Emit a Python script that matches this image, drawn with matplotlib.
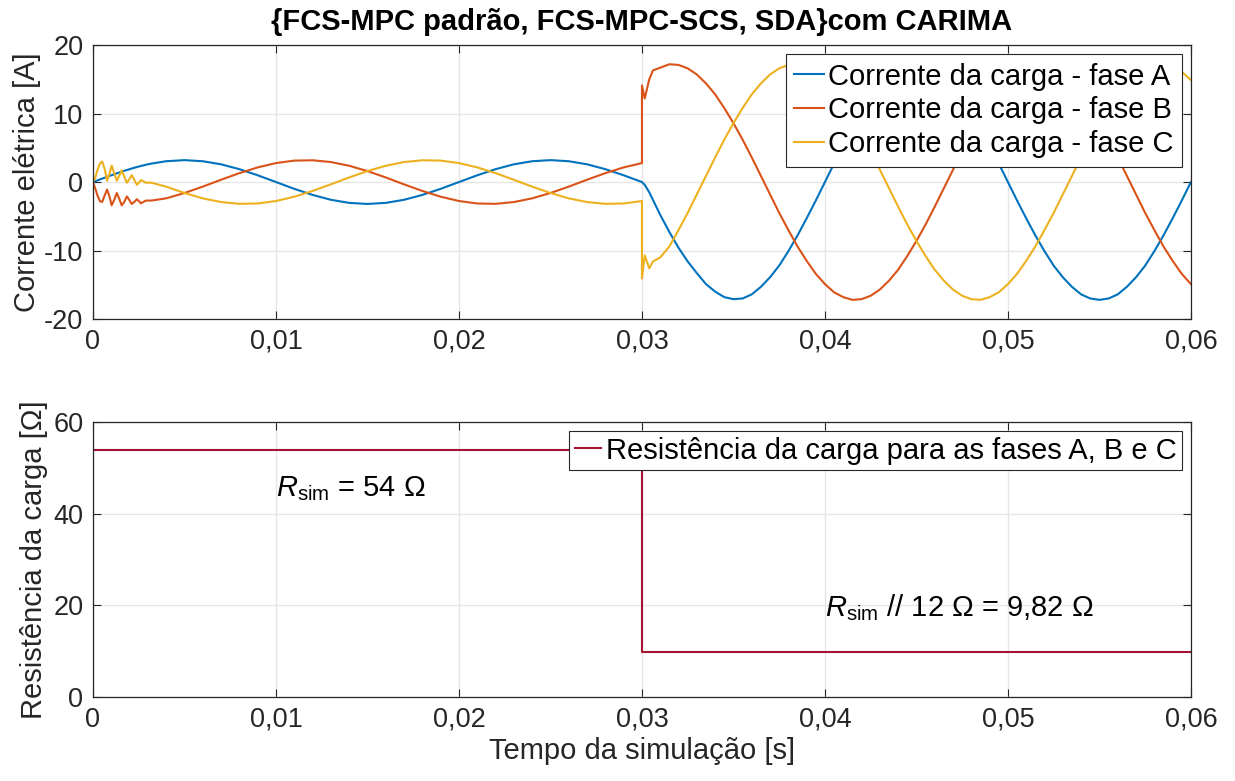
import matplotlib
matplotlib.use("Agg")
import matplotlib.pyplot as plt

plt.rcParams['font.family'] = ['Liberation Sans', 'DejaVu Sans']
plt.rcParams['mathtext.fontset'] = 'custom'
plt.rcParams['mathtext.rm'] = 'Liberation Sans'
plt.rcParams['mathtext.it'] = 'Liberation Sans:italic'
plt.rcParams['axes.unicode_minus'] = False

# ---------------- data ----------------
# time grid before the load step [s]
t_pre = [0, 0.00012, 0.00025, 0.00038, 0.0005, 0.00063, 0.00077, 0.0009,
         0.00102, 0.00116, 0.0013, 0.00143, 0.00157, 0.00171, 0.00185,
         0.00198, 0.00212, 0.00226, 0.0024, 0.00251, 0.00262, 0.00276,
         0.0029, 0.0032,
         0.004, 0.005, 0.006, 0.007, 0.008, 0.009, 0.010, 0.011, 0.012,
         0.013, 0.014, 0.015, 0.016, 0.017, 0.018, 0.019, 0.020, 0.021,
         0.022, 0.023, 0.024, 0.025, 0.026, 0.027, 0.028, 0.029, 0.030]
ia_pre = [0, 0.12, 0.25, 0.38, 0.5, 0.63, 0.77, 0.89, 1.01, 1.14, 1.27, 1.39,
          1.52, 1.64, 1.76, 1.86, 1.98, 2.09, 2.19, 2.27, 2.35, 2.44, 2.53, 2.70,
          3.04, 3.2, 3.04, 2.59, 1.88, 0.99, 0.0, -0.99, -1.88, -2.59, -3.04,
          -3.2, -3.04, -2.59, -1.88, -0.99, 0.0, 0.99, 1.88, 2.59, 3.04, 3.2,
          3.04, 2.59, 1.88, 0.99, 0.0]
ib_pre = [0, -0.9, -2.0, -2.8, -2.9, -2.0, -1.1, -2.1, -3.4, -2.6, -1.6, -2.4,
          -3.4, -2.9, -2.1, -2.6, -3.2, -2.9, -2.5, -2.8, -3.1, -2.9, -2.7, -2.7,
          -2.38, -1.6, -0.67, 0.34, 1.30, 2.14, 2.77, 3.13, 3.18, 2.92, 2.38,
          1.6, 0.67, -0.34, -1.30, -2.14, -2.77, -3.13, -3.18, -2.92, -2.38,
          -1.6, -0.67, 0.34, 1.30, 2.14, 2.77]
ic_pre = [0, 0.6, 1.8, 2.7, 3.0, 2.0, 0.2, 1.2, 2.4, 1.3, 0.2, 0.9,
          1.7, 0.8, -0.1, 0.4, 1.0, 0.3, -0.4, -0.1, 0.3, 0.1, -0.1, -0.1,
          -0.67, -1.6, -2.38, -2.92, -3.18, -3.13, -2.77, -2.14, -1.30, -0.33,
          0.67, 1.6, 2.38, 2.92, 3.18, 3.13, 2.77, 2.14, 1.30, 0.33, -0.67,
          -1.6, -2.38, -2.92, -3.18, -3.13, -2.77]

# time grid after the load step [s]
t_post = [0.030, 0.03015, 0.0304, 0.0306, 0.031,
          0.0315, 0.032, 0.0325, 0.033, 0.0335, 0.034, 0.0345, 0.035, 0.0355,
          0.036, 0.0365, 0.037, 0.0375, 0.038, 0.0385, 0.039, 0.0395, 0.040,
          0.0405, 0.041, 0.0415, 0.042, 0.0425, 0.043, 0.0435, 0.044, 0.0445,
          0.045, 0.0455, 0.046, 0.0465, 0.047, 0.0475, 0.048, 0.0485, 0.049,
          0.0495, 0.050, 0.0505, 0.051, 0.0515, 0.052, 0.0525, 0.053, 0.0535,
          0.054, 0.0545, 0.055, 0.0555, 0.056, 0.0565, 0.057, 0.0575, 0.058,
          0.0585, 0.059, 0.0595, 0.060]
ia_post = [0.0, -0.4, -1.5, -2.6, -4.8,
           -7.3, -9.6, -11.6, -13.3, -14.9, -16.0, -16.8, -17.1, -17.0,
           -16.4, -15.3, -13.9, -12.2, -10.1, -7.8, -5.3, -2.7, 0.0,
           2.7, 5.3, 7.8, 10.1, 12.2, 13.9, 15.3, 16.4, 17.0,
           17.2, 17.0, 16.4, 15.3, 13.9, 12.2, 10.1, 7.8, 5.3,
           2.7, 0.0, -2.7, -5.3, -7.8, -10.1, -12.2, -13.9, -15.3,
           -16.4, -17.0, -17.2, -17.0, -16.4, -15.3, -13.9, -12.2, -10.1,
           -7.8, -5.3, -2.7, 0.0]
ib_post = [14.1, 12.2, 15.0, 16.3, 16.7,
           17.2, 17.1, 16.6, 15.7, 14.4, 12.8, 10.8, 8.6, 6.2,
           3.6, 0.9, -1.8, -4.5, -7.0, -9.4, -11.5, -13.4, -14.9,
           -16.1, -16.8, -17.2, -17.1, -16.6, -15.7, -14.4, -12.8, -10.8,
           -8.6, -6.2, -3.6, -0.9, 1.8, 4.5, 7.0, 9.4, 11.5,
           13.4, 14.9, 16.1, 16.8, 17.2, 17.1, 16.6, 15.7, 14.4,
           12.8, 10.8, 8.6, 6.2, 3.6, 0.9, -1.8, -4.5, -7.0,
           -9.4, -11.5, -13.4, -14.9]
ic_post = [-14.1, -10.7, -12.6, -11.6, -11.0,
           -9.4, -7.0, -4.5, -1.8, 0.9, 3.6, 6.2, 8.6, 10.8,
           12.8, 14.4, 15.7, 16.6, 17.1, 17.2, 16.8, 16.1, 14.9,
           13.4, 11.5, 9.4, 7.0, 4.5, 1.8, -0.9, -3.6, -6.2,
           -8.6, -10.8, -12.8, -14.4, -15.7, -16.6, -17.1, -17.2, -16.8,
           -16.1, -14.9, -13.4, -11.5, -9.4, -7.0, -4.5, -1.8, 0.9,
           3.6, 6.2, 8.6, 10.8, 12.8, 14.4, 15.7, 16.6, 17.1,
           17.2, 16.8, 16.1, 14.9]

# load resistance
t_r = [0.0, 0.03, 0.03, 0.06]
r_load = [54.0, 54.0, 9.82, 9.82]

labels = ['Corrente da carga - fase A', 'Corrente da carga - fase B',
          'Corrente da carga - fase C']
colors = ['#0072BD', '#D95319', '#EDB120']
xticks = [0, 0.01, 0.02, 0.03, 0.04, 0.05, 0.06]
xticklabels = ['0', '0,01', '0,02', '0,03', '0,04', '0,05', '0,06']

# ---------------- figure ----------------
fig = plt.figure(figsize=(12.35, 7.81), dpi=100)
ax1 = fig.add_axes([0.0753, 0.5915, 0.889, 0.3508])
ax2 = fig.add_axes([0.0753, 0.1076, 0.889, 0.352])

fs_tick = 19.5
fs = 21
axcol = '#262626'

series = [(ia_pre, ia_post), (ib_pre, ib_post), (ic_pre, ic_post)]
for (pre, post), c, lab in zip(series, colors, labels):
    n1 = min(len(t_pre), len(pre))
    n2 = min(len(t_post), len(post))
    ax1.plot(list(t_pre[:n1]) + list(t_post[:n2]),
             list(pre[:n1]) + list(post[:n2]), color=c, lw=1.5, label=lab)

ax2.plot(t_r, r_load, color='#A2142F', lw=1.5,
         label='Resistência da carga para as fases A, B e C')

for ax in (ax1, ax2):
    ax.set_xlim(0, 0.06)
    ax.set_xticks(xticks)
    ax.set_xticklabels(xticklabels)
    ax.grid(True, color='#e6e6e6', lw=1.0)
    ax.set_axisbelow(True)
    ax.tick_params(direction='in', top=True, right=True, labelsize=fs_tick,
                   length=6, width=0.8, colors=axcol, pad=7)
    for sp in ax.spines.values():
        sp.set_color(axcol)
        sp.set_linewidth(0.9)

ax1.set_ylim(-20, 20)
ax1.set_yticks([-20, -10, 0, 10, 20])
ax1.set_ylabel('Corrente elétrica [A]', fontsize=fs, color=axcol, labelpad=2)
ax1.set_title('{FCS-MPC padrão, FCS-MPC-SCS, SDA}com CARIMA', fontsize=21,
              fontweight='bold', pad=11)
leg1 = ax1.legend(loc='upper right', fontsize=fs, handlelength=1.0,
                  handletextpad=0.15, borderpad=0.3, labelspacing=0.2,
                  fancybox=False, edgecolor=axcol, framealpha=1,
                  borderaxespad=0.3)
leg1.get_frame().set_linewidth(0.8)

ax2.set_ylim(0, 60)
ax2.set_yticks([0, 20, 40, 60])
ax2.set_ylabel('Resistência da carga [Ω]', fontsize=fs, color=axcol, labelpad=4)
ax2.set_xlabel('Tempo da simulação [s]', fontsize=fs, color=axcol, labelpad=3)
leg2 = ax2.legend(loc='upper right', fontsize=fs, handlelength=0.9,
                  handletextpad=0.15, borderpad=0.2, fancybox=False,
                  edgecolor=axcol, framealpha=1, borderaxespad=0.3)
leg2.get_frame().set_linewidth(0.8)

ax2.text(0.01, 45.5, r'$R_{\mathrm{sim}}$ = 54 Ω', fontsize=fs, va='center',
         ha='left')
ax2.text(0.04, 19.5, r'$R_{\mathrm{sim}}$ // 12 Ω = 9,82 Ω', fontsize=fs,
         va='center', ha='left')

fig.savefig('out.png', dpi=100, facecolor='white')
